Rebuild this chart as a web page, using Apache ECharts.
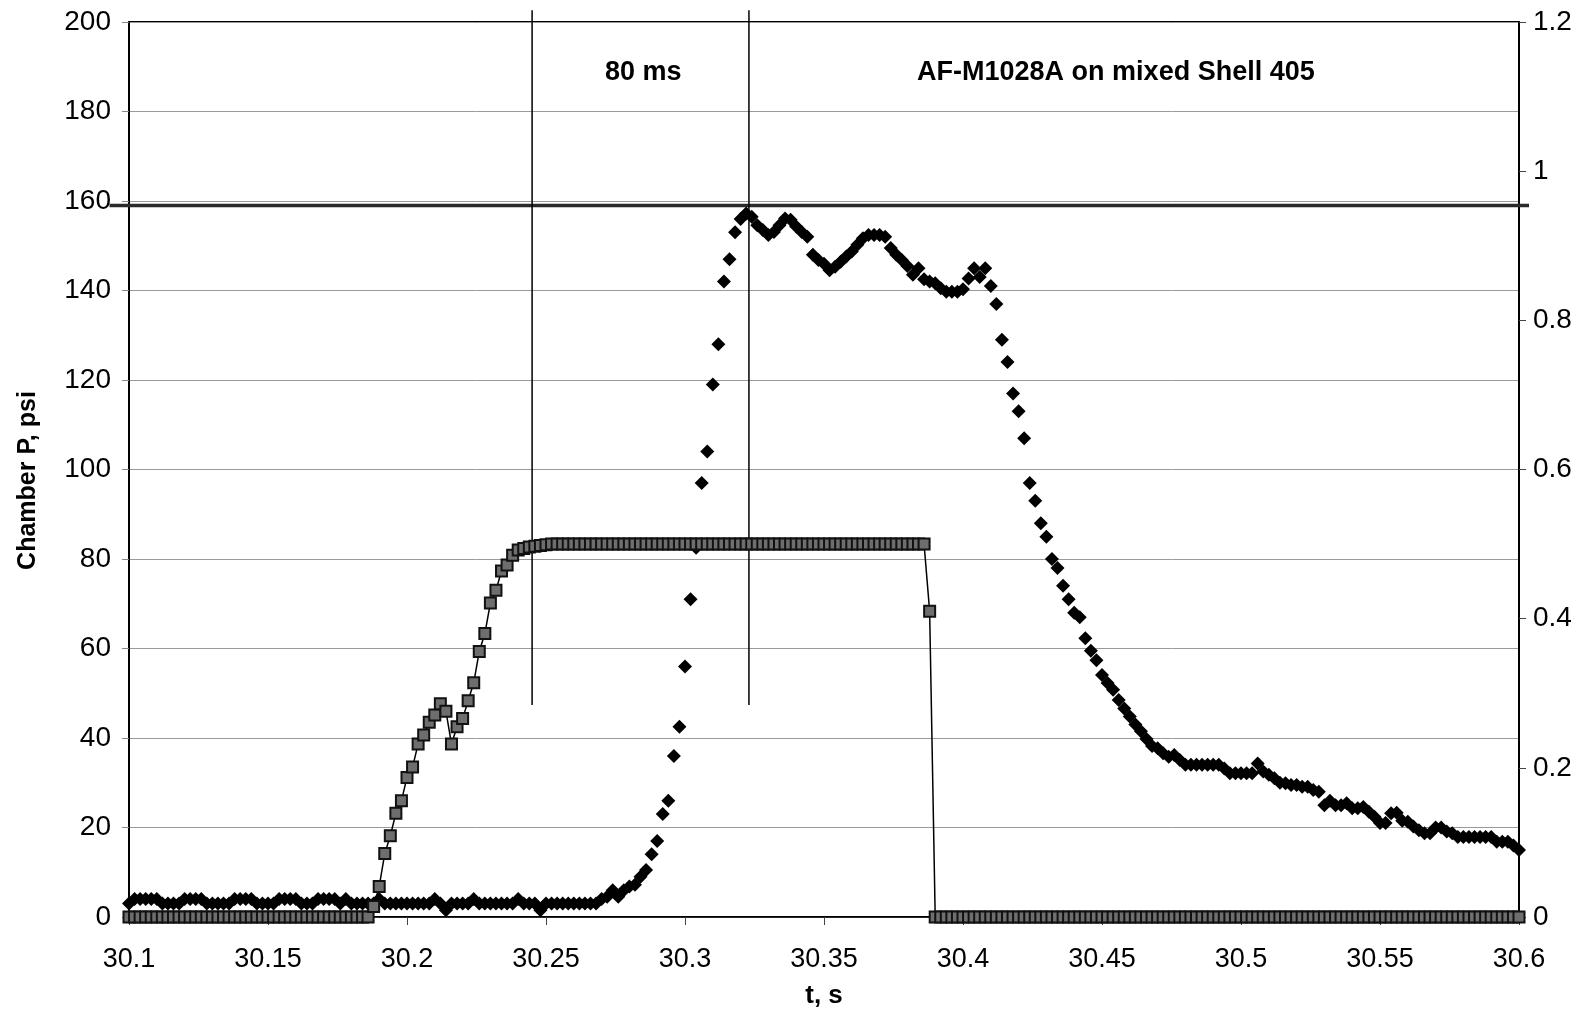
<!DOCTYPE html>
<html>
<head>
<meta charset="utf-8">
<script src="https://cdn.jsdelivr.net/npm/echarts@6/dist/echarts.min.js"></script>
<style>
    html, body { margin: 0; padding: 0; background: #fff; }
    #pressureChart { width: 1591px; height: 1009px; }
</style>
</head>
<body>
<div id="pressureChart"></div>
<script>
// time base of the record: one sample every 2 ms from 30.1 s
var tStart = 30.1;
var tStep = 0.002;

// chamber pressure, psi (left axis), one value per sample
var chamberP = [
    3, 4, 4, 4, 4, 4, 3, 3, 3, 3,
    4, 4, 4, 4, 3, 3, 3, 3, 3, 4,
    4, 4, 4, 3, 3, 3, 3, 4, 4, 4,
    4, 3, 3, 3, 4, 4, 4, 4, 3, 4,
    3, 3, 3, 3, 3, 4, 3, 3, 3, 3,
    3, 3, 3, 3, 3, 4, 3, 1.5, 3, 3,
    3, 3, 4, 3, 3, 3, 3, 3, 3, 3,
    4, 3, 3, 3, 1.5, 3, 3, 3, 3, 3,
    3, 3, 3, 3, 3, 4, 4.5, 6, 4.5, 6,
    6.8, 7.2, 9, 10.5, 14, 17, 23, 26, 36, 42.5,
    56, 71, 82.5, 97, 104, 119, 128, 142, 147, 153,
    156, 157.2, 156.5, 154.6, 153.5, 152.4, 153.1, 154.6, 156.1, 155.8,
    154.3, 153.1, 152, 148, 146.8, 146, 144.5, 145.3, 146.4, 147.6,
    148.7, 150.2, 151.7, 152.4, 152.4, 152.4, 152, 149.5, 148, 146.8,
    145.5, 143.5, 145, 142.5, 142, 141.6, 140.5, 139.7, 139.7, 139.7,
    140.3, 142.7, 145, 143, 145, 141, 137, 129, 124, 117,
    113, 107, 97, 93, 88, 85, 80, 78, 74, 71,
    68, 67, 62.3, 59.5, 57.4, 54.1, 52.3, 50.8, 48.5, 46.6,
    44.8, 43, 41.5, 39.8, 38.2, 37.7, 36.6, 35.8, 36.2, 35.1,
    34, 34, 34, 34, 34, 34, 34, 33.2, 32.1, 32.1,
    32.1, 32.1, 32.1, 34.3, 32.5, 31.8, 31, 30, 29.9, 29.5,
    29.5, 29.1, 29.1, 28.4, 28, 25, 26, 25, 25, 25.4,
    24.3, 24.3, 24.6, 23.5, 22.4, 21, 21, 23.2, 23.3, 21.5,
    21.3, 20.2, 19.4, 18.7, 18.7, 20, 20, 19.1, 18.7, 17.9,
    17.9, 17.9, 17.9, 17.9, 17.9, 17.9, 16.8, 16.8, 16.8, 16,
    15
];

// second trace (right axis), one value per sample
var valveSignal = [
    0, 0, 0, 0, 0, 0, 0, 0, 0, 0,
    0, 0, 0, 0, 0, 0, 0, 0, 0, 0,
    0, 0, 0, 0, 0, 0, 0, 0, 0, 0,
    0, 0, 0, 0, 0, 0, 0, 0, 0, 0,
    0, 0, 0, 0, 0.014, 0.041, 0.085, 0.109, 0.139, 0.156,
    0.187, 0.201, 0.232, 0.244, 0.261, 0.271, 0.286, 0.276, 0.232, 0.255,
    0.266, 0.29, 0.314, 0.356, 0.38, 0.421, 0.438, 0.464, 0.472, 0.485,
    0.492, 0.494, 0.496, 0.497, 0.498, 0.499, 0.5, 0.5, 0.5, 0.5,
    0.5, 0.5, 0.5, 0.5, 0.5, 0.5, 0.5, 0.5, 0.5, 0.5,
    0.5, 0.5, 0.5, 0.5, 0.5, 0.5, 0.5, 0.5, 0.5, 0.5,
    0.5, 0.5, 0.5, 0.5, 0.5, 0.5, 0.5, 0.5, 0.5, 0.5,
    0.5, 0.5, 0.5, 0.5, 0.5, 0.5, 0.5, 0.5, 0.5, 0.5,
    0.5, 0.5, 0.5, 0.5, 0.5, 0.5, 0.5, 0.5, 0.5, 0.5,
    0.5, 0.5, 0.5, 0.5, 0.5, 0.5, 0.5, 0.5, 0.5, 0.5,
    0.5, 0.5, 0.5, 0.5, 0.41, 0, 0, 0, 0, 0,
    0, 0, 0, 0, 0, 0, 0, 0, 0, 0,
    0, 0, 0, 0, 0, 0, 0, 0, 0, 0,
    0, 0, 0, 0, 0, 0, 0, 0, 0, 0,
    0, 0, 0, 0, 0, 0, 0, 0, 0, 0,
    0, 0, 0, 0, 0, 0, 0, 0, 0, 0,
    0, 0, 0, 0, 0, 0, 0, 0, 0, 0,
    0, 0, 0, 0, 0, 0, 0, 0, 0, 0,
    0, 0, 0, 0, 0, 0, 0, 0, 0, 0,
    0, 0, 0, 0, 0, 0, 0, 0, 0, 0,
    0, 0, 0, 0, 0, 0, 0, 0, 0, 0,
    0
];

// annotations
var cursorTimes = [30.245, 30.323];   // the two vertical markers (80 ms apart)
var cursorSpan = [47.4, 202.6];       // psi range they cover
var limitLine = [30.093, 30.6036, 159]; // t from, t to, psi
var notes = [
    { text: '80 ms', t: 30.285, p: 188.8 },
    { text: 'AF-M1028A on mixed Shell 405', t: 30.455, p: 188.8 }
];

var font = "'Liberation Sans', Arial, sans-serif";

function pairs(values) {
    return values.map(function (v, i) {
        return [+(tStart + i * tStep).toFixed(3), v];
    });
}

var chart = echarts.init(document.getElementById('pressureChart'));

var series = [
    {
        type: 'scatter',
        yAxisIndex: 0,
        data: pairs(chamberP),
        symbol: 'diamond',
        symbolSize: [14, 14],
        itemStyle: { color: '#000', opacity: 1 },
        z: 3
    },
    {
        type: 'line',
        yAxisIndex: 1,
        data: pairs(valveSignal),
        symbol: 'rect',
        symbolSize: 11,
        showAllSymbol: true,
        lineStyle: { color: '#000', width: 1.5 },
        itemStyle: { color: '#6e6e6e', borderColor: '#111', borderWidth: 2 },
        z: 4
    }
];
cursorTimes.forEach(function (t) {
    series.push({
        type: 'line',
        yAxisIndex: 0,
        data: [[t, cursorSpan[0]], [t, cursorSpan[1]]],
        showSymbol: false,
        clip: false,
        lineStyle: { color: '#000', width: 1.5 },
        silent: true,
        z: 2
    });
});

var option = {
    animation: false,
    backgroundColor: '#fff',
    textStyle: { fontFamily: font },
    grid: {
        left: 129, right: 72, top: 22, bottom: 92,
        outerBoundsMode: 'none',
        containLabel: false,
        show: true, borderColor: '#000', borderWidth: 2
    },
    xAxis: {
        type: 'value',
        min: 30.1, max: 30.6, interval: 0.05,
        name: 't, s',
        nameLocation: 'middle',
        nameGap: 66,
        nameTextStyle: { fontSize: 26, fontWeight: 'bold', color: '#000', fontFamily: font },
        axisLine: { show: true, lineStyle: { color: '#000', width: 1.5 } },
        axisTick: { show: true, inside: false, length: 8, lineStyle: { color: '#444' } },
        axisLabel: {
            fontSize: 27, color: '#000', margin: 29, fontFamily: font,
            formatter: function (v) { return String(+v.toFixed(2)); }
        },
        splitLine: { show: false }
    },
    yAxis: [
        {
            type: 'value',
            min: 0, max: 200, interval: 20,
            name: 'Chamber P, psi',
            nameLocation: 'middle',
            nameGap: 88,
            nameTextStyle: {
                fontSize: 25, fontWeight: 'bold', color: '#000', fontFamily: font,
                padding: [0, 22, 0, 0]
            },
            axisLine: { show: true, lineStyle: { color: '#000', width: 2 } },
            axisTick: { show: true, length: 7, lineStyle: { color: '#888' } },
            axisLabel: { fontSize: 28, color: '#000', margin: 18, fontFamily: font },
            splitLine: { show: true, lineStyle: { color: '#9a9a9a', width: 1 } }
        },
        {
            type: 'value',
            position: 'right',
            min: 0, max: 1.2, interval: 0.2,
            axisLine: { show: true, lineStyle: { color: '#000', width: 2 } },
            axisTick: { show: true, length: 7, lineStyle: { color: '#444' } },
            axisLabel: {
                fontSize: 28, color: '#000', margin: 14, fontFamily: font,
                formatter: function (v) { return String(+v.toFixed(1)); }
            },
            splitLine: { show: false }
        }
    ],
    series: series
};

chart.setOption(option);

// 图上文字和160 psi粗线
var toPx = function (t, p) {
    return chart.convertToPixel({ xAxisIndex: 0, yAxisIndex: 0 }, [t, p]);
};
var limA = toPx(limitLine[0], limitLine[2]);
var limB = toPx(limitLine[1], limitLine[2]);
var graphics = [{
    type: 'line',
    shape: { x1: limA[0], y1: limA[1], x2: limB[0], y2: limB[1] },
    style: { stroke: '#2a2a2a', lineWidth: 3.5 },
    z: 2
}];
notes.forEach(function (n) {
    var pt = toPx(n.t, n.p);
    graphics.push({
        type: 'text',
        x: pt[0], y: pt[1],
        style: {
            text: n.text,
            fontSize: 27, fontWeight: 'bold', fontFamily: font,
            fill: '#000', align: 'center', verticalAlign: 'middle'
        },
        z: 10
    });
});
chart.setOption({ graphic: graphics });

window.addEventListener('resize', function () {
    chart.resize();
});
</script>
</body>
</html>
